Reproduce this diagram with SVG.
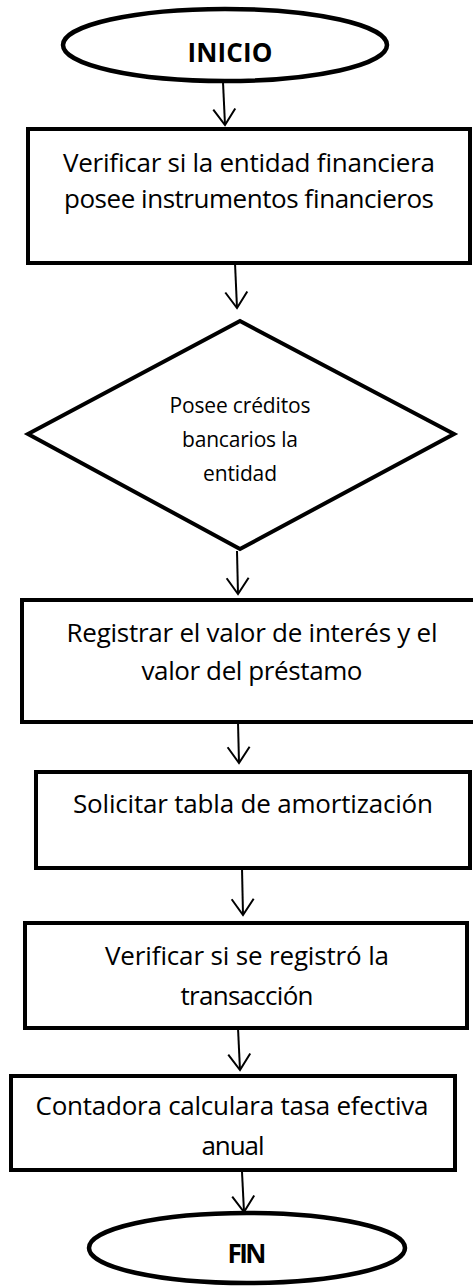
<svg xmlns="http://www.w3.org/2000/svg" width="473" height="1286" viewBox="0 0 473 1286">
<style>
.shape{fill:#fff;stroke:#000;stroke-width:4}
.ell{fill:#fff;stroke:#000;stroke-width:4.5}
.t{font-family:"Open Sans","Noto Sans","Liberation Sans",sans-serif;font-size:26px;fill:#000;text-anchor:middle}
.d{font-family:"Open Sans","Noto Sans","Liberation Sans",sans-serif;font-size:21px;fill:#000;text-anchor:middle}
.b{font-family:"Open Sans","Noto Sans","Liberation Sans",sans-serif;font-size:26px;font-weight:bold;fill:#000;text-anchor:middle}
.c{stroke:#000;stroke-width:2;fill:none;marker-end:url(#arr)}
</style>
<defs>
<marker id="arr" markerUnits="userSpaceOnUse" viewBox="-18 -13 20 26" markerWidth="20" markerHeight="26" refX="0" refY="0" orient="auto" overflow="visible">
<path d="M-16,-11 L0,0 L-16,11" fill="none" stroke="#000" stroke-width="2"/>
</marker>
</defs>
<rect width="473" height="1286" fill="#fff"/>
<g id="connectors">
<path class="c" d="M223,82 L225,125"/>
<path class="c" d="M235,263 L237,308"/>
<path class="c" d="M237,551 L238,594"/>
<path class="c" d="M238,722 L239,763"/>
<path class="c" d="M242,868 L243,915"/>
<path class="c" d="M238,1028 L240,1070"/>
<path class="c" d="M242,1172 L244,1212"/>
</g>
<g id="inicio">
<ellipse class="ell" cx="225" cy="45" rx="162" ry="36"/>
<text class="b" x="230" y="62" textLength="85">INICIO</text>
</g>
<g id="verificar-entidad">
<rect class="shape" x="28" y="129" width="442" height="134"/>
<text class="t" x="249" y="172" textLength="372">Verificar si la entidad financiera</text>
<text class="t" x="249" y="208" textLength="370">posee instrumentos financieros</text>
</g>
<g id="decision">
<polygon class="shape" points="240,321 454,434 240,549 28,434"/>
<text class="d" x="240" y="413" textLength="141">Posee créditos</text>
<text class="d" x="240" y="447" textLength="116">bancarios la</text>
<text class="d" x="240" y="481" textLength="74">entidad</text>
</g>
<g id="registrar">
<rect class="shape" x="22" y="600" width="461" height="122"/>
<text class="t" x="252" y="642" textLength="371">Registrar el valor de interés y el</text>
<text class="t" x="252" y="680" textLength="221">valor del préstamo</text>
</g>
<g id="solicitar">
<rect class="shape" x="36" y="772" width="434" height="96"/>
<text class="t" x="253" y="813" textLength="360">Solicitar tabla de amortización</text>
</g>
<g id="verificar-transaccion">
<rect class="shape" x="25" y="923" width="442" height="105"/>
<text class="t" x="247" y="965" textLength="284">Verificar si se registró la</text>
<text class="t" x="247" y="1005" textLength="133">transacción</text>
</g>
<g id="contadora">
<rect class="shape" x="11" y="1076" width="444" height="94"/>
<text class="t" x="232" y="1115" textLength="393">Contadora calculara tasa efectiva</text>
<text class="t" x="233" y="1155" textLength="63">anual</text>
</g>
<g id="fin">
<ellipse class="ell" cx="247" cy="1248" rx="158" ry="35"/>
<text class="b" x="247" y="1263" textLength="39">FIN</text>
</g>
</svg>
